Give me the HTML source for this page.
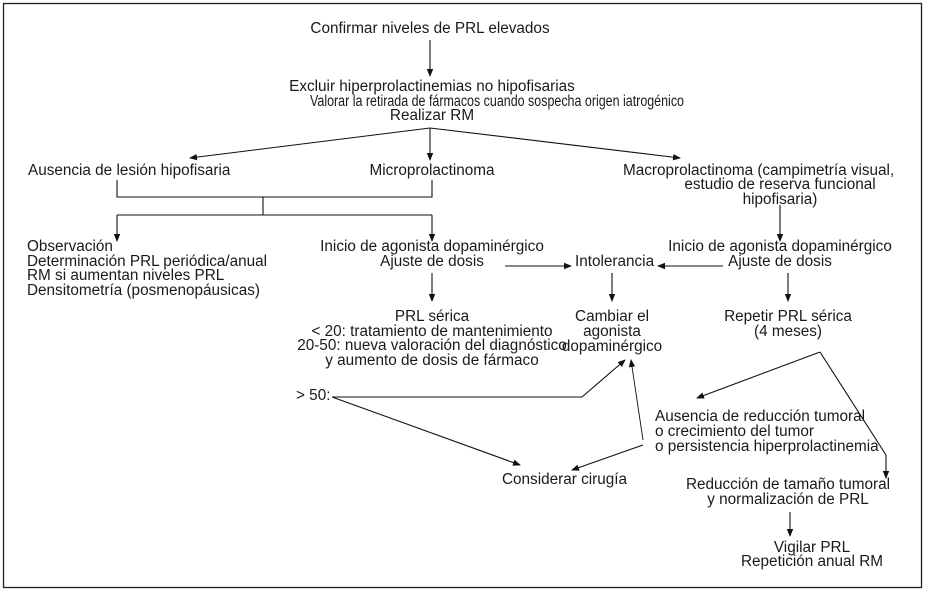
<!DOCTYPE html>
<html><head><meta charset="utf-8"><style>
html,body{margin:0;padding:0;background:#fff;}
svg{display:block;}
text{font-family:"Liberation Sans",Arial,sans-serif;font-size:15.3px;fill:#1a1a1a;}
</style></head><body>
<svg width="926" height="592" viewBox="0 0 926 592" xmlns="http://www.w3.org/2000/svg">
<defs><marker id="a" markerWidth="8" markerHeight="8" refX="7" refY="4" orient="auto" markerUnits="userSpaceOnUse"><path d="M0,0.8 L8,4 L0,7.2 Z" fill="#111"/></marker></defs>
<rect x="3.5" y="3.5" width="918" height="584" fill="none" stroke="#222" stroke-width="1.3"/>
<g stroke="#111" stroke-width="1.1" fill="none">
<line x1="430" y1="40" x2="430" y2="76" marker-end="url(#a)"/>
<line x1="430" y1="128" x2="190" y2="158" marker-end="url(#a)"/>
<line x1="430" y1="128" x2="430" y2="160" marker-end="url(#a)"/>
<line x1="430" y1="128" x2="680" y2="158" marker-end="url(#a)"/>
<polyline points="117,180 117,197 432,197 432,180"/>
<line x1="263" y1="197" x2="263" y2="215"/>
<line x1="117" y1="215" x2="432" y2="215"/>
<line x1="117" y1="215" x2="117" y2="241" marker-end="url(#a)"/>
<line x1="432" y1="215" x2="432" y2="241" marker-end="url(#a)"/>
<line x1="780" y1="205" x2="780" y2="241" marker-end="url(#a)"/>
<line x1="432" y1="273" x2="432" y2="301" marker-end="url(#a)"/>
<line x1="505" y1="266" x2="571" y2="266" marker-end="url(#a)"/>
<line x1="723" y1="266" x2="658" y2="266" marker-end="url(#a)"/>
<line x1="612" y1="273" x2="612" y2="301" marker-end="url(#a)"/>
<line x1="788" y1="273" x2="788" y2="301" marker-end="url(#a)"/>
<polyline points="332,397 582,397 625,360" marker-end="url(#a)"/>
<line x1="332" y1="397" x2="520" y2="465" marker-end="url(#a)"/>
<line x1="643" y1="440" x2="631" y2="360" stroke-width="0.9" marker-end="url(#a)"/>
<line x1="643" y1="445" x2="572" y2="470" marker-end="url(#a)"/>
<line x1="820" y1="352" x2="697" y2="398" marker-end="url(#a)"/>
<polyline points="820,352 886,455 886,478" marker-end="url(#a)"/>
<line x1="790" y1="512" x2="790" y2="536" marker-end="url(#a)"/>
</g>
<g text-anchor="middle">
<text x="430" y="33">Confirmar niveles de PRL elevados</text>
<text x="432" y="91">Excluir hiperprolactinemias no hipofisarias</text>
<text x="497" y="106" textLength="374" lengthAdjust="spacingAndGlyphs" text-anchor="start" transform="translate(-187,0)">Valorar la retirada de fármacos cuando sospecha origen iatrogénico</text>
<text x="432" y="120">Realizar RM</text>
<text x="432" y="175">Microprolactinoma</text>
<text x="780" y="189">estudio de reserva funcional</text>
<text x="780" y="204">hipofisaria)</text>
<text x="432" y="251">Inicio de agonista dopaminérgico</text>
<text x="432" y="266">Ajuste de dosis</text>
<text x="780" y="251">Inicio de agonista dopaminérgico</text>
<text x="780" y="266">Ajuste de dosis</text>
<text x="612" y="321">Cambiar el</text>
<text x="612" y="336">agonista</text>
<text x="612" y="351">dopaminérgico</text>
<text x="788" y="321">Repetir PRL sérica</text>
<text x="788" y="336">(4 meses)</text>
<text x="432" y="321">PRL sérica</text>
<text x="432" y="336">&lt; 20: tratamiento de mantenimiento</text>
<text x="432" y="350">20-50: nueva valoración del diagnóstico</text>
<text x="432" y="365">y aumento de dosis de fármaco</text>
<text x="788" y="489">Reducción de tamaño tumoral</text>
<text x="788" y="504">y normalización de PRL</text>
<text x="812" y="552">Vigilar PRL</text>
<text x="812" y="566">Repetición anual RM</text>
</g>
<text x="28" y="175">Ausencia de lesión hipofisaria</text>
<text x="623" y="175">Macroprolactinoma (campimetría visual,</text>
<text x="27" y="251">Observación</text>
<text x="27" y="266">Determinación PRL periódica/anual</text>
<text x="27" y="280">RM si aumentan niveles PRL</text>
<text x="27" y="295">Densitometría (posmenopáusicas)</text>
<text x="575" y="266">Intolerancia</text>
<text x="296" y="400">&gt; 50:</text>
<text x="655" y="421">Ausencia de reducción tumoral</text>
<text x="655" y="436">o crecimiento del tumor</text>
<text x="655" y="451">o persistencia hiperprolactinemia</text>
<text x="502" y="484">Considerar cirugía</text>
</svg>
</body></html>
